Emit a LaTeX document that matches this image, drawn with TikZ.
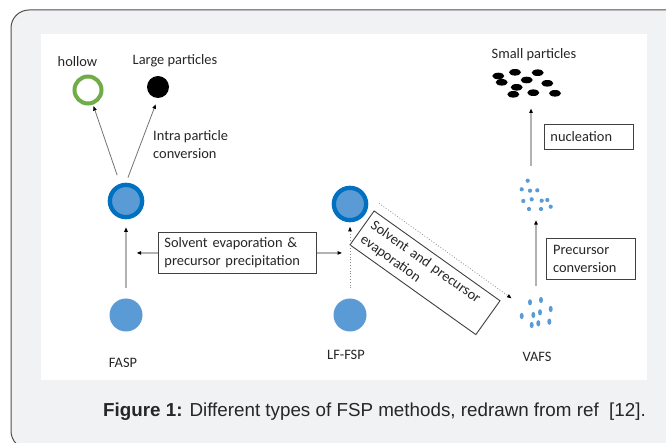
\documentclass[tikz,border=0pt]{standalone}
\usepackage{fontspec}
\setmainfont{Carlito}
\newfontfamily\captionfont{Liberation Sans}
\usetikzlibrary{arrows.meta,calc}
\definecolor{panelgray}{HTML}{F1F2F4}
\definecolor{framegray}{HTML}{505050}
\definecolor{dropblue}{HTML}{5B9BD5}
\definecolor{ringblue}{HTML}{0070C0}
\definecolor{ringgreen}{HTML}{70AD47}
\definecolor{textdark}{HTML}{262626}
\begin{document}
\begin{tikzpicture}[x=1pt,y=-1pt,
  lbl/.style={font=\fontsize{14.4}{17.7}\selectfont, text=textdark, inner sep=0pt},
  tbox/.style={lbl, draw=black!75, line width=0.9pt, fill=white, align=left,
    inner xsep=6pt, inner ysep=0pt},
  drop/.style={circle, fill=dropblue, inner sep=0pt, minimum size=33pt},
  dropring/.style={circle, fill=dropblue, draw=ringblue, line width=4.3pt,
    inner sep=0pt, minimum size=32.3pt},
  cluster/.style={inner sep=0pt, minimum width=34pt, minimum height=30pt},
  tip/.style={-{Triangle[length=4.5pt,width=3.5pt,color=black]}},
  lightarrow/.style={tip, draw=black!30, line width=1.4pt},
  thinarrow/.style={tip, draw=black!55, line width=0.8pt},
  dotarrow/.style={tip, draw=black!45, line width=0.8pt, dotted},
]
\useasboundingbox (0,0) rectangle (666,443);
\clip (0,0) rectangle (666,443);

% frame and drawing panel
\fill[white] (0,0) rectangle (666,443);
\draw[fill=panelgray, draw=framegray, line width=1pt, rounded corners=18pt]
  (11,10) rectangle (700,449);
\fill[white] (41,34) rectangle (647,380);

% FASP column
\node[lbl] (lhollow) at (77.5,62) {hollow};
\node[circle, draw=ringgreen, line width=4pt, minimum size=27pt, inner sep=0pt]
  (hollow) at (88,90) {};
\node[lbl] (llarge) at (175,61) {Large particles};
\node[circle, fill=black, minimum size=22pt, inner sep=0pt] (large) at (158,87) {};
\node[lbl, align=left, anchor=west] (lintra) at (153,144.5)
  {Intra particle\\conversion};
\node[dropring] (faspM) at (126,201) {};
\node[drop] (faspB) at (126,315) {};
\node[lbl] (lfasp) at (123,363) {FASP};

% LF-FSP column
\node[dropring] (lfM) at (350,204) {};
\node[drop] (lfB) at (350,315) {};
\node[lbl] (llf) at (346,355) {LF-FSP};

% VAFS column
\node[lbl] (lvafs) at (537,357) {VAFS};
\node[lbl] (lsmall) at (534,55) {Small particles};
\node[inner sep=0pt, minimum width=70pt, minimum height=28pt] (small) at (531,83) {};
\node[cluster] (dots) at (536,195) {};
\node[cluster] (vafs) at (536,312.5) {};

% small particles
\foreach \px/\py in {498.3/76, 515/72.3, 537.7/72.7, 501.7/82.3, 526.7/80,
  547.3/83.3, 516.7/87.3, 513.3/94.3, 533.3/92.7, 555/93.3}
  \fill[black] (\px,\py) ellipse [x radius=6pt, y radius=3.3pt];
% precursor vapour
\foreach \px/\py in {527.7/180.7, 521.7/189.3, 530/190.7, 537.3/190.3, 523.3/201,
  531.7/199.3, 541.7/200.7, 547.3/200, 529/209, 541/209, 550.7/206.7}
  \fill[dropblue] (\px,\py) circle [radius=2.1pt];
% sprayed droplets
\foreach \px/\py in {530/302.3, 541/300, 550.7/309, 521.7/316, 533.3/315,
  540/312.3, 531.7/325, 538.3/323.3, 549.3/321.7}
  \fill[dropblue] (\px,\py) ellipse [x radius=2pt, y radius=3.1pt];

% process boxes
\node[tbox, text width=146pt, minimum height=41pt, anchor=north west] (evap)
  at (158,232) {Solvent evaporation \&\\precursor precipitation};
\node[tbox, text width=75.3pt, inner xsep=7pt, minimum height=41pt,
  anchor=north west] (prec) at (545.7,238) {Precursor\\conversion};
\node[tbox, text width=76.7pt, minimum height=25pt, anchor=north west] (nuc)
  at (544,124) {nucleation};
\node[tbox, text width=142.6pt, minimum height=41.6pt, rotate=-35.5] (svp)
  at (425,272.8) {Solvent and precursor\\evaporation};

% connectors
\draw[thinarrow, shorten <=9pt, shorten >=1.5pt] (faspM) -- (hollow);
\draw[thinarrow, shorten <=5.4pt, shorten >=6.5pt] (faspM.north) -- (large.south);
\draw[lightarrow, shorten <=10pt, shorten >=8pt] (faspB) -- (faspM);
\draw[dotarrow, shorten <=10pt, shorten >=4.5pt] (lfB) -- (lfM);
\draw[lightarrow, shorten >=10.7pt] (evap.west) -- (evap.west -| faspB);
\draw[lightarrow, shorten >=8pt] (evap.east) -- (evap.east -| lfB);
\path (lfM.east) ++(10.7,-0.7) coordinate (dstart);
\path (vafs.west) ++(-7.3,-14.2) coordinate (dend);
\draw[dotarrow] (dstart) -- (dend);
\draw[lightarrow, shorten <=10.8pt, shorten >=10pt] (vafs.north) -- (dots.south);
\draw[lightarrow, shorten <=13.3pt, shorten >=11.3pt]
  (dots.north -| small.south) -- (small.south);

% caption
\node[anchor=base west, font=\captionfont\fontsize{18.8}{22}\selectfont,
  text=black!85, inner sep=0pt] (cap) at (103,416.7)
  {\textbf{Figure 1:} Different types of FSP methods, redrawn from ref\ \ [12].};
\end{tikzpicture}
\end{document}
